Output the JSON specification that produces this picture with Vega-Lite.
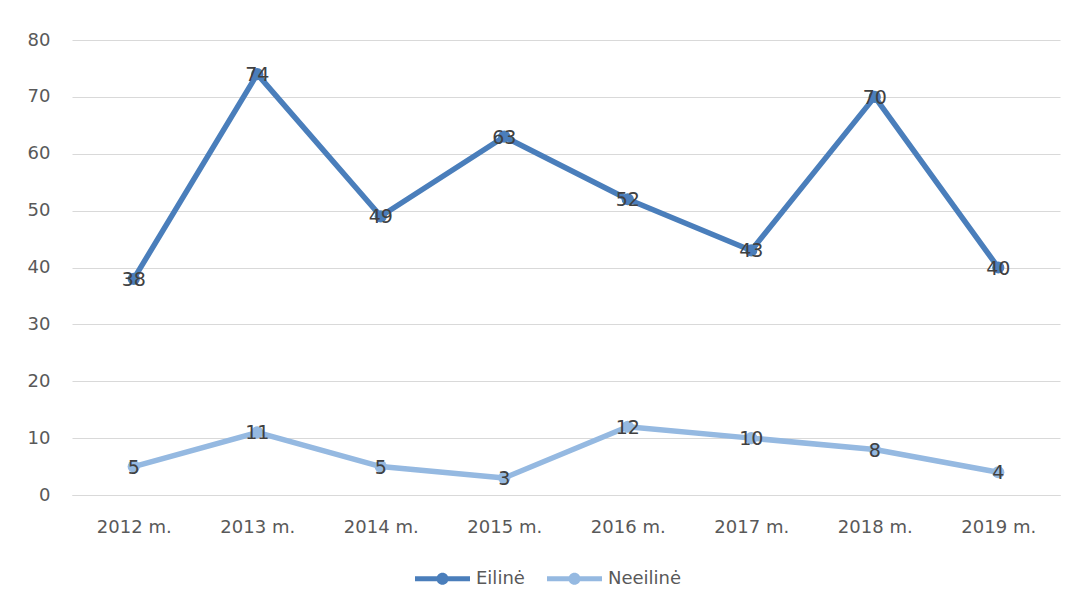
{
  "$schema": "https://vega.github.io/schema/vega-lite/v6.json",
  "width": 988,
  "height": 455,
  "autosize": {"type": "none"},
  "padding": {"left": 72, "top": 40, "right": 17, "bottom": 117},
  "background": "white",
  "config": {
    "font": "DejaVu Sans",
    "view": {"stroke": null},
    "axis": {"labelFont": "DejaVu Sans", "labelColor": "#595959", "labelFontSize": 18},
    "legend": {"labelFont": "DejaVu Sans", "labelColor": "#595959", "labelFontSize": 18}
  },
  "data": {
    "values": [
      {"year": "2012 m.", "series": "Eilinė", "value": 38},
      {"year": "2013 m.", "series": "Eilinė", "value": 74},
      {"year": "2014 m.", "series": "Eilinė", "value": 49},
      {"year": "2015 m.", "series": "Eilinė", "value": 63},
      {"year": "2016 m.", "series": "Eilinė", "value": 52},
      {"year": "2017 m.", "series": "Eilinė", "value": 43},
      {"year": "2018 m.", "series": "Eilinė", "value": 70},
      {"year": "2019 m.", "series": "Eilinė", "value": 40},
      {"year": "2012 m.", "series": "Neeilinė", "value": 5},
      {"year": "2013 m.", "series": "Neeilinė", "value": 11},
      {"year": "2014 m.", "series": "Neeilinė", "value": 5},
      {"year": "2015 m.", "series": "Neeilinė", "value": 3},
      {"year": "2016 m.", "series": "Neeilinė", "value": 12},
      {"year": "2017 m.", "series": "Neeilinė", "value": 10},
      {"year": "2018 m.", "series": "Neeilinė", "value": 8},
      {"year": "2019 m.", "series": "Neeilinė", "value": 4}
    ]
  },
  "encoding": {
    "x": {
      "field": "year", "type": "ordinal", "title": null,
      "scale": {"type": "point", "padding": 0.5},
      "axis": {"labelAngle": 0, "ticks": false, "domain": true, "domainColor": "#d9d9d9", "domainWidth": 1, "labelPadding": 23, "grid": false}
    },
    "y": {
      "field": "value", "type": "quantitative", "title": null,
      "scale": {"domain": [0, 80], "nice": false},
      "axis": {"values": [0, 10, 20, 30, 40, 50, 60, 70, 80], "ticks": false, "domain": false, "gridColor": "#d9d9d9", "gridWidth": 1, "labelPadding": 22}
    },
    "color": {
      "field": "series", "type": "nominal", "title": null,
      "scale": {"domain": ["Eilinė", "Neeilinė"], "range": ["#4a7ebb", "#95b9e1"]},
      "legend": {
        "orient": "none", "direction": "horizontal", "legendX": 343, "legendY": 511,
        "symbolType": "M-1,-0.09 H1 V0.09 H-1 Z M0.22,0 A0.22,0.22 0 1,1 -0.22,0 A0.22,0.22 0 1,1 0.22,0 Z",
        "symbolSize": 3025, "symbolStrokeWidth": 0, "symbolOpacity": 1,
        "columnPadding": 22, "labelOffset": 6
      }
    }
  },
  "layer": [
    {"mark": {"type": "line", "strokeWidth": 5.5, "strokeCap": "round", "strokeJoin": "round"}},
    {"mark": {"type": "point", "filled": true, "size": 150, "opacity": 1}},
    {"mark": {"type": "text", "fontSize": 19, "color": "#404040", "font": "DejaVu Sans", "dy": 1}, "encoding": {"text": {"field": "value", "type": "quantitative"}, "color": {"value": "#404040"}}}
  ]
}
